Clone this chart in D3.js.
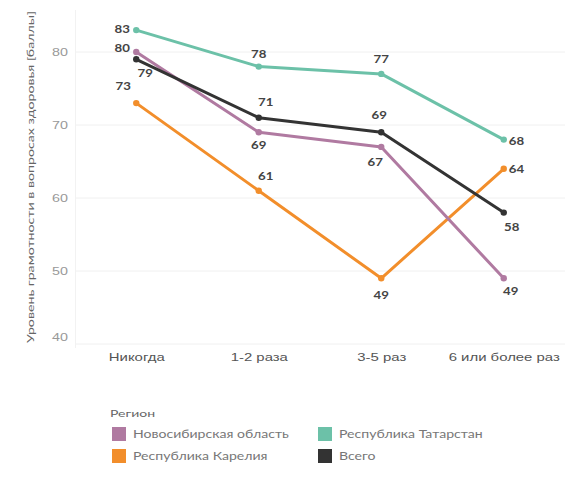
<!DOCTYPE html>
<html>
<head>
<meta charset="utf-8">
<script src="https://cdn.jsdelivr.net/npm/d3@7"></script>
<style>
  html, body { margin: 0; padding: 0; background: #fff; }
  svg { display: block; font-family: "Lato", "Open Sans", sans-serif; }
</style>
</head>
<body>
<svg id="chart" width="576" height="483"></svg>
<script>
// Visit frequency categories (x axis)
const categories = ["Никогда", "1-2 раза", "3-5 раз", "6 или более раз"];

// Health literacy scores by region
const novosibirsk = [80, 69, 67, 49];
const karelia = [73, 61, 49, 64];
const tatarstan = [83, 78, 77, 68];
const total = [79, 71, 69, 58];

const seriesNames = ["Новосибирская область", "Республика Карелия", "Республика Татарстан", "Всего"];
const yTicks = [40, 50, 60, 70, 80];

const colors = {
  "Новосибирская область": "#b07aa1",
  "Республика Карелия": "#f28e2b",
  "Республика Татарстан": "#6cc1a8",
  "Всего": "#333333"
};

// Value label offsets (dx, dy, anchor) for each point, per series
const labelLayout = {
  "Новосибирская область": [[-14, -4, "middle"], [0, 13, "middle"], [-6, 15, "middle"], [7, 13, "middle"]],
  "Республика Карелия": [[-13, -17, "middle"], [7, -15, "middle"], [0, 17, "middle"], [5, 0, "start"]],
  "Республика Татарстан": [[-14, -1, "middle"], [0, -13, "middle"], [0, -15, "middle"], [5, 1, "start"]],
  "Всего": [[9, 14, "middle"], [7, -16, "middle"], [-2, -17, "middle"], [8, 14, "middle"]]
};

const seriesValues = {
  "Новосибирская область": novosibirsk,
  "Республика Карелия": karelia,
  "Республика Татарстан": tatarstan,
  "Всего": total
};

// Widen a text node's glyphs by a horizontal factor
function widen(sel, factor) {
  sel.each(function () {
    const w = this.getComputedTextLength();
    d3.select(this)
      .attr("textLength", w * factor)
      .attr("lengthAdjust", "spacingAndGlyphs");
  });
}

const svg = d3.select("#chart");

const x = d3.scalePoint().domain(categories).range([75, 565]).padding(0.5);
const y = d3.scaleLinear().domain([40, 80]).range([344, 52]);

// Gridlines
svg.append("g")
  .selectAll("line")
  .data(yTicks)
  .join("line")
  .attr("x1", 75).attr("x2", 565)
  .attr("y1", d => y(d)).attr("y2", d => y(d))
  .attr("stroke", "#f0f0f0")
  .attr("stroke-width", 1);

// Faint y axis line
svg.append("line")
  .attr("x1", 75.5).attr("x2", 75.5)
  .attr("y1", 10).attr("y2", 348)
  .attr("stroke", "#f2f2f2");

// Y axis tick labels
const yAxis = d3.axisLeft(y).tickValues(yTicks).tickSize(0).tickPadding(7);
const yg = svg.append("g").attr("transform", "translate(75,0)").call(yAxis);
yg.select(".domain").remove();
yg.selectAll("text")
  .attr("fill", "#999")
  .style("font-size", "11px")
  .attr("dy", d => d === 40 ? "-0.35em" : "0.32em")
  .call(widen, 1.3);

// X axis category labels
const xAxis = d3.axisBottom(x).tickSize(0).tickPadding(0);
const xg = svg.append("g").attr("transform", "translate(0,354)").call(xAxis);
xg.select(".domain").remove();
xg.selectAll("text")
  .attr("fill", "#555")
  .style("font-size", "10.5px")
  .attr("dy", "0.71em")
  .call(widen, 1.42);

// Y axis title
svg.append("text")
  .attr("transform", "translate(30,177) rotate(-90)")
  .attr("text-anchor", "middle")
  .attr("dy", "0.35em")
  .attr("fill", "#666")
  .style("font-size", "10px")
  .attr("textLength", 332)
  .attr("lengthAdjust", "spacingAndGlyphs")
  .text("Уровень грамотности в вопросах здоровья [баллы]");

// Lines
const line = d3.line().x((d, i) => x(categories[i])).y(d => y(d));
const drawOrder = ["Республика Карелия", "Новосибирская область", "Всего", "Республика Татарстан"];

drawOrder.forEach(name => {
  const vals = seriesValues[name];
  svg.append("path")
    .datum(vals)
    .attr("d", line)
    .attr("fill", "none")
    .attr("stroke", colors[name])
    .attr("stroke-width", 3)
    .attr("stroke-linejoin", "round")
    .attr("stroke-linecap", "round");
  svg.append("g")
    .selectAll("circle")
    .data(vals)
    .join("circle")
    .attr("cx", (d, i) => x(categories[i]))
    .attr("cy", d => y(d))
    .attr("r", 3.2)
    .attr("fill", colors[name]);
});

// Value labels
seriesNames.forEach(name => {
  const vals = seriesValues[name];
  svg.append("g")
    .selectAll("text")
    .data(vals)
    .join("text")
    .attr("x", (d, i) => x(categories[i]) + labelLayout[name][i][0])
    .attr("y", (d, i) => y(d) + labelLayout[name][i][1])
    .attr("text-anchor", (d, i) => labelLayout[name][i][2])
    .attr("dy", "0.35em")
    .attr("fill", "#444")
    .style("font-size", "11.5px")
    .style("font-weight", "bold")
    .text(d => d)
    .call(widen, 1.15);
});

// Legend
const legend = svg.append("g");
legend.append("text")
  .attr("x", 110).attr("y", 413)
  .attr("dy", "0.35em")
  .attr("fill", "#666")
  .style("font-size", "10px")
  .text("Регион")
  .call(widen, 1.4);

const legendCols = [112, 318];
const legendRows = [434, 456];
const legendItems = [
  { name: "Новосибирская область", col: 0, row: 0 },
  { name: "Республика Татарстан", col: 1, row: 0 },
  { name: "Республика Карелия", col: 0, row: 1 },
  { name: "Всего", col: 1, row: 1 }
];

legendItems.forEach(item => {
  const lx = legendCols[item.col];
  const ly = legendRows[item.row];
  legend.append("rect")
    .attr("x", lx).attr("y", ly - 7)
    .attr("width", 14).attr("height", 14)
    .attr("fill", colors[item.name]);
  legend.append("text")
    .attr("x", lx + 21).attr("y", ly)
    .attr("dy", "0.35em")
    .attr("fill", "#777")
    .style("font-size", "10.5px")
    .text(item.name)
    .call(widen, 1.34);
});
</script>
</body>
</html>
